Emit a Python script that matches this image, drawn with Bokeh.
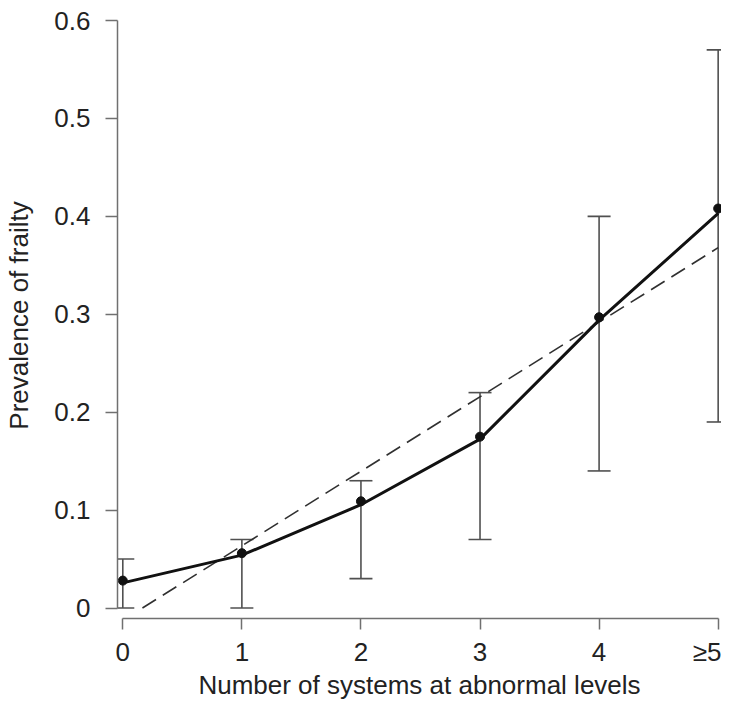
from bokeh.plotting import figure
from bokeh.models import ColumnDataSource, Whisker, TeeHead, FixedTicker, CustomJSTickFormatter, Range1d
from bokeh.embed import file_html
from bokeh.resources import INLINE

# ---- data ----
categories = [0, 1, 2, 3, 4, 5]
cat_labels = ["0", "1", "2", "3", "4", "≥5"]
prevalence = [0.028, 0.056, 0.109, 0.175, 0.297, 0.408]
ci_lower = [0.0, 0.0, 0.03, 0.07, 0.14, 0.19]
ci_upper = [0.05, 0.07, 0.13, 0.22, 0.40, 0.57]
fitted = [0.0257, 0.054, 0.1055, 0.1725, 0.294, 0.403]
linear_x = [0.165, 5.0]
linear_y = [0.0, 0.368]
y_ticks = [0, 0.1, 0.2, 0.3, 0.4, 0.5, 0.6]
x_title = "Number of systems at abnormal levels"
y_title = "Prevalence of frailty"

FONT = "Liberation Sans"
AXIS_COL = "#707070"
TEXT_COL = "#222222"

p = figure(width=721, height=702, output_backend="svg", toolbar_location=None,
           x_range=Range1d(-0.0445, 5.028), y_range=Range1d(-0.0107, 0.6082),
           min_border_left=117, min_border_right=0, min_border_top=12, min_border_bottom=83)
p.outline_line_color = None
p.grid.visible = False
p.background_fill_color = "white"

src = ColumnDataSource(dict(x=categories, y=prevalence, lo=ci_lower, hi=ci_upper, fit=fitted))

err_col = "#505050"
w = Whisker(base="x", lower="lo", upper="hi", source=src, line_color=err_col, line_width=1.6,
            upper_head=TeeHead(size=23, line_color=err_col, line_width=1.6),
            lower_head=TeeHead(size=23, line_color=err_col, line_width=1.6))
p.add_layout(w)

p.line(linear_x, linear_y, line_color="#303030", line_width=1.6, line_dash="16 8")
p.line("x", "fit", source=src, line_color="#111111", line_width=3)
p.scatter("x", "y", source=src, size=9, color="#111111")

for ax in (p.xaxis[0], p.yaxis[0]):
    ax.axis_line_color = AXIS_COL
    ax.axis_line_width = 1.5
    ax.major_tick_line_color = AXIS_COL
    ax.major_tick_line_width = 1.5
    ax.minor_tick_line_color = None
    ax.major_tick_in = 0
    ax.major_label_text_font = FONT
    ax.major_label_text_font_size = "26px"
    ax.major_label_text_color = TEXT_COL
    ax.major_label_text_line_height = 0.85
    ax.axis_label_text_font = FONT
    ax.axis_label_text_font_size = "26px"
    ax.axis_label_text_font_style = "normal"
    ax.axis_label_text_color = TEXT_COL
    ax.axis_label_text_line_height = 0.85

xa = p.xaxis[0]
xa.bounds = (0, 5)
xa.ticker = FixedTicker(ticks=categories)
xa.major_label_overrides = {c: l for c, l in zip(categories, cat_labels)}
xa.major_tick_out = 11
xa.major_label_standoff = 7
xa.axis_label = x_title
xa.axis_label_standoff = 0

ya = p.yaxis[0]
ya.bounds = (0, 0.6)
ya.ticker = FixedTicker(ticks=y_ticks)
ya.formatter = CustomJSTickFormatter(code="return Math.abs(tick) < 1e-9 ? '0' : tick.toFixed(1);")
ya.major_tick_out = 12
ya.major_label_standoff = 15
ya.axis_label = y_title
ya.axis_label_standoff = 17

open("out.html", "w").write(file_html(p, INLINE))
